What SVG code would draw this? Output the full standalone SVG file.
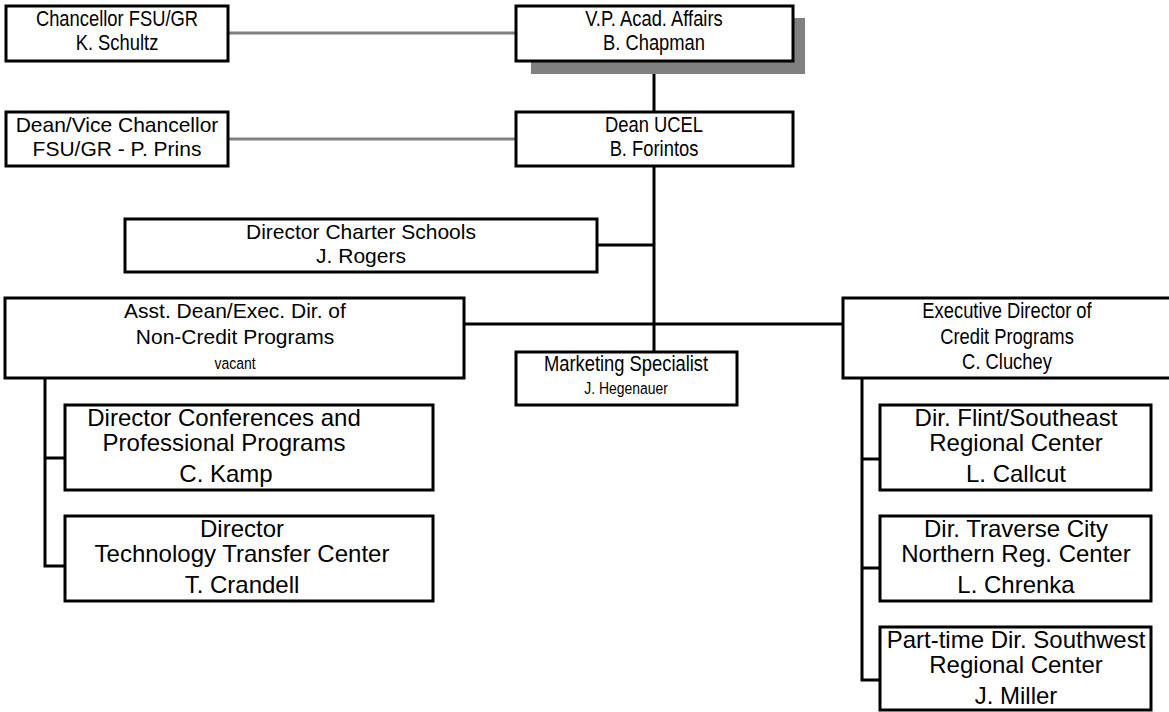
<svg xmlns="http://www.w3.org/2000/svg" width="1169" height="712" viewBox="0 0 1169 712">
<style>
.box{fill:#fff;stroke:#000;stroke-width:3}
.shadow{fill:#808080}
.gl{stroke:#808080;stroke-width:3;fill:none}
.bl{stroke:#000;stroke-width:3;fill:none}
.n{font-family:"Liberation Sans",Arial,sans-serif;font-size:22.4px;text-anchor:middle;fill:#000}
.m{font-family:"Liberation Sans",Arial,sans-serif;font-size:21px;text-anchor:middle;fill:#000}
.r{font-family:"Liberation Sans",Arial,sans-serif;font-size:24px;text-anchor:middle;fill:#000}
.s{font-size:17px}
</style>
<rect width="1169" height="712" fill="#fff"/>
<g id="connectors">
<line class="gl" x1="228" y1="33" x2="516" y2="33"/>
<line class="gl" x1="228" y1="139" x2="516" y2="139"/>
<line class="bl" x1="654" y1="74" x2="654" y2="112"/>
<line class="bl" x1="654" y1="166" x2="654" y2="352"/>
<line class="bl" x1="597" y1="245" x2="654" y2="245"/>
<line class="bl" x1="464" y1="324" x2="843" y2="324"/>
<polyline class="bl" points="45,378 45,566 65,566"/>
<line class="bl" x1="45" y1="458" x2="65" y2="458"/>
<polyline class="bl" points="862,378 862,680 880,680"/>
<line class="bl" x1="862" y1="459" x2="880" y2="459"/>
<line class="bl" x1="862" y1="568" x2="880" y2="568"/>
</g>
<g id="chancellor">
<rect class="box" x="6" y="6" width="222" height="55"/>
<text class="n" transform="translate(117 26) scale(0.82 1)">Chancellor FSU/GR</text>
<text class="n" transform="translate(117 50) scale(0.82 1)">K. Schultz</text>
</g>
<g id="vp">
<rect class="shadow" x="531" y="18" width="274" height="56"/>
<rect class="box" x="516" y="6" width="277" height="55"/>
<text class="n" transform="translate(654 26) scale(0.82 1)">V.P. Acad. Affairs</text>
<text class="n" transform="translate(654 50) scale(0.82 1)">B. Chapman</text>
</g>
<g id="dean-vice">
<rect class="box" x="6" y="112" width="222" height="54"/>
<text class="m" x="117" y="132">Dean/Vice Chancellor</text>
<text class="m" x="117" y="156">FSU/GR - P. Prins</text>
</g>
<g id="dean-ucel">
<rect class="box" x="516" y="112" width="277" height="54"/>
<text class="n" transform="translate(654 132) scale(0.82 1)">Dean UCEL</text>
<text class="n" transform="translate(654 156) scale(0.82 1)">B. Forintos</text>
</g>
<g id="charter">
<rect class="box" x="125" y="219" width="472" height="53"/>
<text class="m" x="361" y="239">Director Charter Schools</text>
<text class="m" x="361" y="263">J. Rogers</text>
</g>
<g id="asst-dean">
<rect class="box" x="5" y="298" width="459" height="80"/>
<text class="m" x="235" y="318">Asst. Dean/Exec. Dir. of</text>
<text class="m" x="235" y="344">Non-Credit Programs</text>
<text class="n s" transform="translate(235 369) scale(0.82 1)">vacant</text>
</g>
<g id="exec-dir">
<rect class="box" x="843" y="298" width="330" height="80"/>
<text class="n" transform="translate(1007 318) scale(0.82 1)">Executive Director of</text>
<text class="n" transform="translate(1007 344) scale(0.82 1)">Credit Programs</text>
<text class="n" transform="translate(1007 369) scale(0.82 1)">C. Cluchey</text>
</g>
<g id="marketing">
<rect class="box" x="516" y="352" width="221" height="53"/>
<text class="n" transform="translate(626 371) scale(0.82 1)">Marketing Specialist</text>
<text class="n s" transform="translate(626 394) scale(0.82 1)">J. Hegenauer</text>
</g>
<g id="conferences">
<rect class="box" x="65" y="405" width="368" height="85"/>
<text class="r" x="224" y="426">Director Conferences and</text>
<text class="r" x="224" y="451">Professional Programs</text>
<text class="r" x="226" y="482">C. Kamp</text>
</g>
<g id="tech-transfer">
<rect class="box" x="65" y="516" width="368" height="85"/>
<text class="r" x="242" y="537">Director</text>
<text class="r" x="242" y="562">Technology Transfer Center</text>
<text class="r" x="242" y="593">T. Crandell</text>
</g>
<g id="flint">
<rect class="box" x="880" y="405" width="271" height="85"/>
<text class="r" x="1016" y="426">Dir. Flint/Southeast</text>
<text class="r" x="1016" y="451">Regional Center</text>
<text class="r" x="1016" y="482">L. Callcut</text>
</g>
<g id="traverse">
<rect class="box" x="880" y="516" width="271" height="85"/>
<text class="r" x="1016" y="537">Dir. Traverse City</text>
<text class="r" x="1016" y="562">Northern Reg. Center</text>
<text class="r" x="1016" y="593">L. Chrenka</text>
</g>
<g id="southwest">
<rect class="box" x="880" y="627" width="271" height="83"/>
<text class="r" x="1016" y="648">Part-time Dir. Southwest</text>
<text class="r" x="1016" y="673">Regional Center</text>
<text class="r" x="1016" y="704">J. Miller</text>
</g>
</svg>
